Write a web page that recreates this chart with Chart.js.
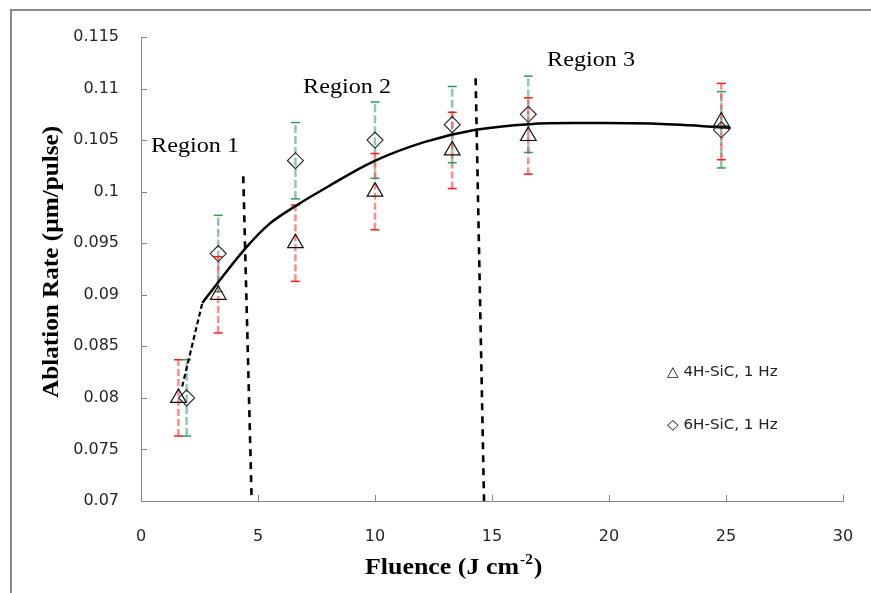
<!DOCTYPE html>
<html>
<head>
<meta charset="utf-8">
<script src="https://cdn.jsdelivr.net/npm/chart.js@4/dist/chart.umd.min.js"></script>
<style>
html,body{margin:0;padding:0;background:#fff;}
#wrap{width:871px;height:593px;position:relative;}
</style>
</head>
<body>
<div id="wrap"><canvas id="c" width="871" height="593"></canvas></div>
<script>
// ---- data ----
const fluence4H = [1.6, 3.3, 6.6, 10, 13.3, 16.55, 24.8];
const rate4H    = [0.0800, 0.0900, 0.0950, 0.1000, 0.1040, 0.1054, 0.1068];
const err4H     = [0.0037, 0.0037, 0.0037, 0.0037, 0.0037, 0.0037, 0.0037];

const fluence6H = [1.95, 3.3, 6.6, 10, 13.3, 16.55, 24.8];
const rate6H    = [0.0800, 0.0940, 0.1030, 0.1050, 0.1065, 0.1075, 0.1060];
const err6H     = [0.0037, 0.0037, 0.0037, 0.0037, 0.0037, 0.0037, 0.0037];

// trend curve (solid) and its dashed start
const trendX = [2.62, 3.5, 4.5, 5.5, 6.6, 8.0, 9.9, 12.1, 14.3, 16.6, 19.0, 21.8, 25.2];
const trendY = [0.0892, 0.0918, 0.0946, 0.0969, 0.0986, 0.1005, 0.1029, 0.1048, 0.1060, 0.10655, 0.10665, 0.1066, 0.1062];
const trendDashX = [1.76, 2.62];
const trendDashY = [0.0811, 0.0892];

// region boundary lines
const boundary1X = [4.37, 4.73];
const boundary1Y = [0.1015, 0.0700];
const boundary2X = [14.3, 14.66];
const boundary2Y = [0.1110, 0.0700];

const regionLabels = ["Region 1", "Region 2", "Region 3"];
const legendLabels = ["\u25B3 4H-SiC, 1 Hz", "\u25C7 6H-SiC, 1 Hz"];

const xTitle = "Fluence (J cm";
const xTitleSup = "-2";
const yTitle = "Ablation Rate (\u00B5m/pulse)";

// ---- helpers to build library data ----
const pts = (xs, ys) => xs.map((x, i) => ({x: x, y: ys[i]}));
function errSegments(xs, ys, es) {
  const out = [];
  xs.forEach((x, i) => {
    out.push({x: x, y: ys[i] - es[i]});
    out.push({x: x, y: ys[i] + es[i]});
    out.push({x: x, y: null});
  });
  return out;
}
function errCaps(xs, ys, es) {
  const out = [];
  xs.forEach((x, i) => {
    out.push({x: x, y: ys[i] - es[i]});
    out.push({x: x, y: ys[i] + es[i]});
  });
  return out;
}

const extras = {
  id: 'extras',
  beforeDraw(chart) {
    const ctx = chart.ctx;
    ctx.save();
    ctx.fillStyle = '#fff';
    ctx.fillRect(0, 0, chart.width, chart.height);
    ctx.strokeStyle = '#8a8a8a';
    ctx.lineWidth = 2;
    ctx.beginPath();
    ctx.moveTo(11, 593);
    ctx.lineTo(11, 10);
    ctx.lineTo(871, 10);
    ctx.stroke();
    ctx.restore();
  },
  afterDraw(chart) {
    const ctx = chart.ctx;
    const xs = chart.scales.x, ys = chart.scales.y;
    const a = chart.chartArea;
    ctx.save();
    // inward tick marks
    ctx.strokeStyle = '#868686';
    ctx.lineWidth = 1;
    ctx.beginPath();
    ys.ticks.forEach(t => {
      const py = Math.round(ys.getPixelForValue(t.value)) + 0.5;
      ctx.moveTo(a.left, py); ctx.lineTo(a.left + 6, py);
    });
    xs.ticks.forEach(t => {
      const px = Math.round(xs.getPixelForValue(t.value)) + 0.5;
      ctx.moveTo(px, a.bottom); ctx.lineTo(px, a.bottom - 6);
    });
    ctx.stroke();

    // region labels
    ctx.fillStyle = '#000';
    ctx.font = '22px "Liberation Serif", "Times New Roman", serif';
    ctx.textBaseline = 'alphabetic';
    ctx.textAlign = 'left';
    const reg = [[151, 152], [303, 93], [547, 66]];
    regionLabels.forEach((t, i) => {
      ctx.save();
      ctx.translate(reg[i][0], reg[i][1]);
      ctx.scale(1.1, 1);
      ctx.fillText(t, 0, 0);
      ctx.restore();
    });

    // legend text box
    ctx.fillStyle = '#222';
    ctx.font = '14px "DejaVu Sans", sans-serif';
    const leg = [[667, 376], [667, 429]];
    legendLabels.forEach((t, i) => {
      ctx.save();
      ctx.translate(leg[i][0], leg[i][1]);
      ctx.scale(1.08, 1);
      ctx.fillText(t, 0, 0);
      ctx.restore();
    });

    // y axis title
    ctx.fillStyle = '#000';
    ctx.font = 'bold 24px "Liberation Serif", "Times New Roman", serif';
    ctx.save();
    ctx.translate(52, 262);
    ctx.rotate(-Math.PI / 2);
    ctx.scale(1.05, 1);
    ctx.textAlign = 'center';
    ctx.textBaseline = 'middle';
    ctx.fillText(yTitle, 0, 0);
    ctx.restore();

    // x axis title with superscript
    ctx.save();
    ctx.translate(365, 574);
    ctx.scale(1.08, 1);
    ctx.textAlign = 'left';
    ctx.textBaseline = 'alphabetic';
    ctx.font = 'bold 24px "Liberation Serif", "Times New Roman", serif';
    let w = ctx.measureText(xTitle).width;
    ctx.fillText(xTitle, 0, 0);
    ctx.font = 'bold 14px "Liberation Serif", "Times New Roman", serif';
    ctx.fillText(xTitleSup, w + 1, -10);
    const w2 = ctx.measureText(xTitleSup).width;
    ctx.font = 'bold 24px "Liberation Serif", "Times New Roman", serif';
    ctx.fillText(')', w + w2 + 2, 0);
    ctx.restore();

    ctx.restore();
  }
};

const tickFont = {family: '"DejaVu Sans", sans-serif', size: 16};

new Chart(document.getElementById('c'), {
  type: 'scatter',
  data: {
    datasets: [
      { label: '4H-SiC, 1 Hz', data: pts(fluence4H, rate4H), showLine: false,
        pointStyle: 'triangle', pointRadius: 9, borderColor: '#111', borderWidth: 1.2,
        backgroundColor: 'rgba(0,0,0,0)' },
      { label: '6H-SiC, 1 Hz', data: pts(fluence6H, rate6H), showLine: false,
        pointStyle: 'rectRot', pointRadius: 8, borderColor: '#222', borderWidth: 1.1,
        backgroundColor: 'rgba(0,0,0,0)' },
      { label: 'trend', data: pts(trendX, trendY), showLine: true, pointRadius: 0,
        borderColor: '#000', borderWidth: 2.5, tension: 0.35, fill: false },
      { label: 'trend dash', data: pts(trendDashX, trendDashY), showLine: true, pointRadius: 0,
        borderColor: '#000', borderWidth: 2.2, borderDash: [5, 3], fill: false },
      { label: 'b1', data: pts(boundary1X, boundary1Y), showLine: true, pointRadius: 0,
        borderColor: '#000', borderWidth: 2.6, borderDash: [7, 6], fill: false },
      { label: 'b2', data: pts(boundary2X, boundary2Y), showLine: true, pointRadius: 0,
        borderColor: '#000', borderWidth: 2.6, borderDash: [7, 6], fill: false },
      { label: 'caps4H', data: errCaps(fluence4H, rate4H, err4H), showLine: false,
        pointStyle: 'line', pointRadius: 4.5, borderColor: '#ff1a1a', borderWidth: 1.5 },
      { label: 'caps6H', data: errCaps(fluence6H, rate6H, err6H), showLine: false,
        pointStyle: 'line', pointRadius: 4.5, borderColor: '#2e9a62', borderWidth: 1.5 },
      { label: 'err4H', data: errSegments(fluence4H, rate4H, err4H), showLine: true, spanGaps: false,
        pointRadius: 0, borderColor: 'rgba(255,90,90,0.7)', borderWidth: 2.5, borderDash: [7, 3] },
      { label: 'err6H', data: errSegments(fluence6H, rate6H, err6H), showLine: true, spanGaps: false,
        pointRadius: 0, borderColor: 'rgba(90,180,140,0.7)', borderWidth: 2.5, borderDash: [8, 3] }
    ]
  },
  options: {
    responsive: false,
    devicePixelRatio: 1,
    animation: false,
    layout: {padding: {top: 37, right: 28, left: 0, bottom: 0}},
    plugins: {legend: {display: false}, tooltip: {enabled: false}},
    scales: {
      x: {
        type: 'linear', min: 0, max: 30,
        afterFit: s => { s.height = 92; s.paddingLeft = 0; s.paddingRight = 0; },
        grid: {display: false, drawTicks: false},
        border: {display: true, color: '#868686', width: 1},
        ticks: {stepSize: 5, padding: 26, color: '#262626', font: tickFont,
                callback: v => String(v)}
      },
      y: {
        type: 'linear', min: 0.07, max: 0.115,
        afterFit: s => { s.width = 141; s.paddingTop = 0; s.paddingBottom = 0; },
        grid: {display: false, drawTicks: false},
        border: {display: true, color: '#868686', width: 1},
        ticks: {stepSize: 0.005, padding: 22, color: '#262626', font: tickFont,
                callback: v => String(+v.toFixed(3))}
      }
    }
  },
  plugins: [extras]
});
</script>
</body>
</html>
